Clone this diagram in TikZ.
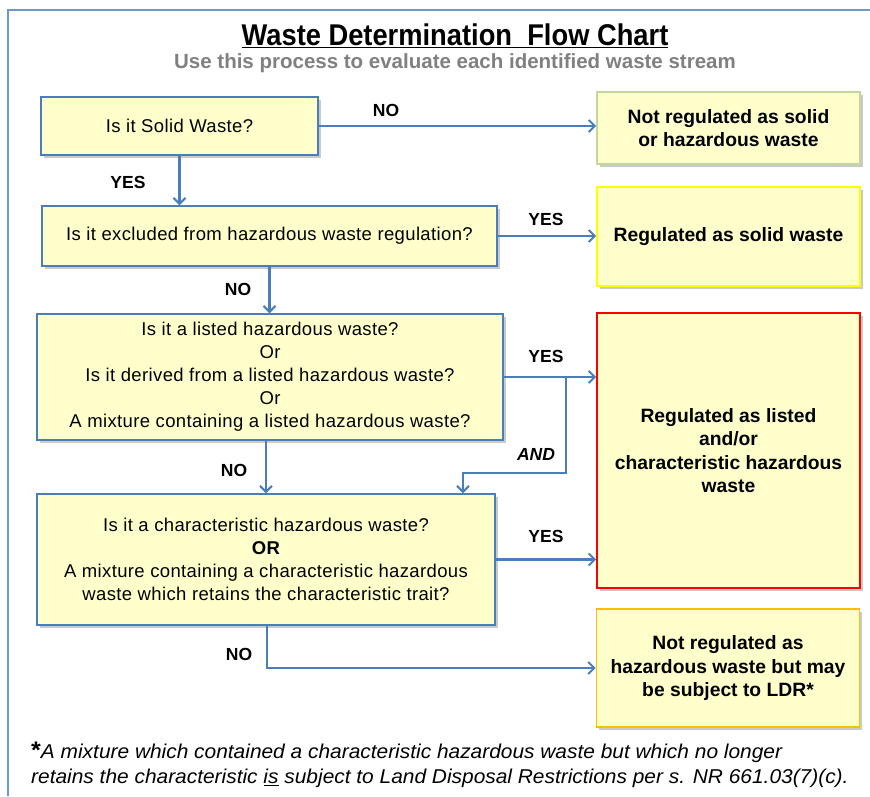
\documentclass[tikz,border=0pt]{standalone}
\usepackage{fontspec}
\setmainfont{Liberation Sans}
\newfontfamily\titlefont[FakeStretch=0.91]{Liberation Sans}
\newfontfamily\widefont[FakeStretch=1.045]{Liberation Sans}
\newfontfamily\qfont[LetterSpace=2]{Liberation Sans}
\usetikzlibrary{arrows.meta,shadows}
\definecolor{flowblue}{HTML}{4A7EBB}
\definecolor{boxfill}{HTML}{FFFFCC}
\definecolor{greenedge}{HTML}{C3D69B}
\definecolor{yellowedge}{HTML}{FFFF00}
\definecolor{orangeedge}{HTML}{FFC000}
\definecolor{subgray}{HTML}{808080}
\tikzset{
  qbox/.style={draw=flowblue, line width=1.4pt, fill=boxfill, align=center,
    inner sep=0pt, font=\qfont\fontsize{18.5}{23}\selectfont,
    drop shadow={shadow xshift=2.5pt, shadow yshift=-2.5pt, opacity=0.35, fill=black!60}},
  rbox/.style={line width=1.8pt, fill=boxfill, align=center,
    inner sep=0pt, font=\bfseries\fontsize{19.3}{23.5}\selectfont,
    drop shadow={shadow xshift=2.5pt, shadow yshift=-2.5pt, opacity=0.35, fill=black!60}},
  arr/.style={draw=flowblue, line width=2.4pt, -{Straight Barb[length=6pt,width=12pt,line width=2pt]}},
  lbl/.style={font=\bfseries\fontsize{17.5}{20}\selectfont, inner sep=0pt},
}
\begin{document}
\begin{tikzpicture}[x=1pt,y=-1pt]
\useasboundingbox (0,0) rectangle (870,796);
% frame
\draw[flowblue!80, line width=1.5pt] (8,796) -- (8,10) -- (870,10);
% title
\node[inner sep=0pt] (title) at (455,36) {\titlefont\bfseries\fontsize{30}{34}\selectfont\underline{Waste Determination\ \ Flow Chart}};
\node[inner sep=0pt, text=subgray] (sub) at (455,63) {\bfseries\fontsize{20.5}{24}\selectfont Use this process to evaluate each identified\ waste stream};
% boxes
\node[qbox, minimum width=277, minimum height=58] (b1) at (179.5,126) {Is it Solid Waste?};
\node[rbox, draw=greenedge, minimum width=263, minimum height=72] (b2) at (728.5,128) {Not regulated as solid\\or hazardous waste};
\node[qbox, minimum width=455, minimum height=60] (b3) at (269.5,236) {Is it excluded from hazardous waste regulation?};
\node[rbox, draw=yellowedge, minimum width=263, minimum height=99] (b4) at (728.5,236.5) {Regulated as solid waste};
\node[qbox, minimum width=466, minimum height=126] (b5) at (270,377) {Is it a listed hazardous waste?\\Or\\Is it derived from a listed hazardous waste?\\Or\\A mixture containing a listed hazardous waste?};
\node[rbox, draw=red, minimum width=263, minimum height=275] (b6) at (728.5,450.5) {Regulated as listed\\and/or\\characteristic hazardous\\waste};
\node[qbox, minimum width=458, minimum height=131] (b7) at (266,559.5) {Is it a characteristic hazardous waste?\\\textbf{OR}\\A mixture containing a characteristic hazardous\\waste which retains the characteristic trait?};
\node[rbox, draw=orangeedge, minimum width=263, minimum height=118] (b8) at (728,668) {Not regulated as\\hazardous waste but may\\be subject to LDR*};
% connectors
\draw[arr] (b1.east) -- (b1.east -| b2.west);
\draw[arr] (b1.south) -- (b1.south |- b3.north);
\draw[arr] (b3.east) -- (b3.east -| b4.west);
\draw[arr] (b3.south) -- (b3.south |- b5.north);
\draw[arr] (b5.east) -- (b5.east -| b6.west);
\coordinate (j) at (566,378);
\coordinate (k) at (463,473);
\draw[arr] (j) |- (k) -- (k |- b7.north);
\draw[arr] (b7.north |- b5.south) -- (b7.north);
\draw[arr] (b7.east) -- (b7.east -| b6.west);
\coordinate (m) at (267,625);
\draw[arr] (m) |- (b8.west);
% labels
\node[lbl] (l1) at (386,110) {NO};
\node[lbl] (l2) at (128,182) {YES};
\node[lbl] (l3) at (546,219) {YES};
\node[lbl] (l4) at (238,289) {NO};
\node[lbl] (l5) at (546,356) {YES};
\node[lbl] (l6) at (536,454) {\itshape AND};
\node[lbl] (l7) at (234,470) {NO};
\node[lbl] (l8) at (546,536) {YES};
\node[lbl] (l9) at (239,654) {NO};
% footnote
\node[anchor=west, inner sep=0pt] (fn1) at (31,752) {\widefont\fontsize{20}{24}\selectfont{\bfseries\fontsize{24}{24}\selectfont *}\itshape A mixture which contained a characteristic hazardous waste but which no longer};
\node[anchor=west, inner sep=0pt] (fn2) at (31,778) {\widefont\fontsize{20}{24}\selectfont\itshape retains the characteristic \underline{is} subject to Land Disposal Restrictions per s. NR 661.03(7)(c).};
\end{tikzpicture}
\end{document}
